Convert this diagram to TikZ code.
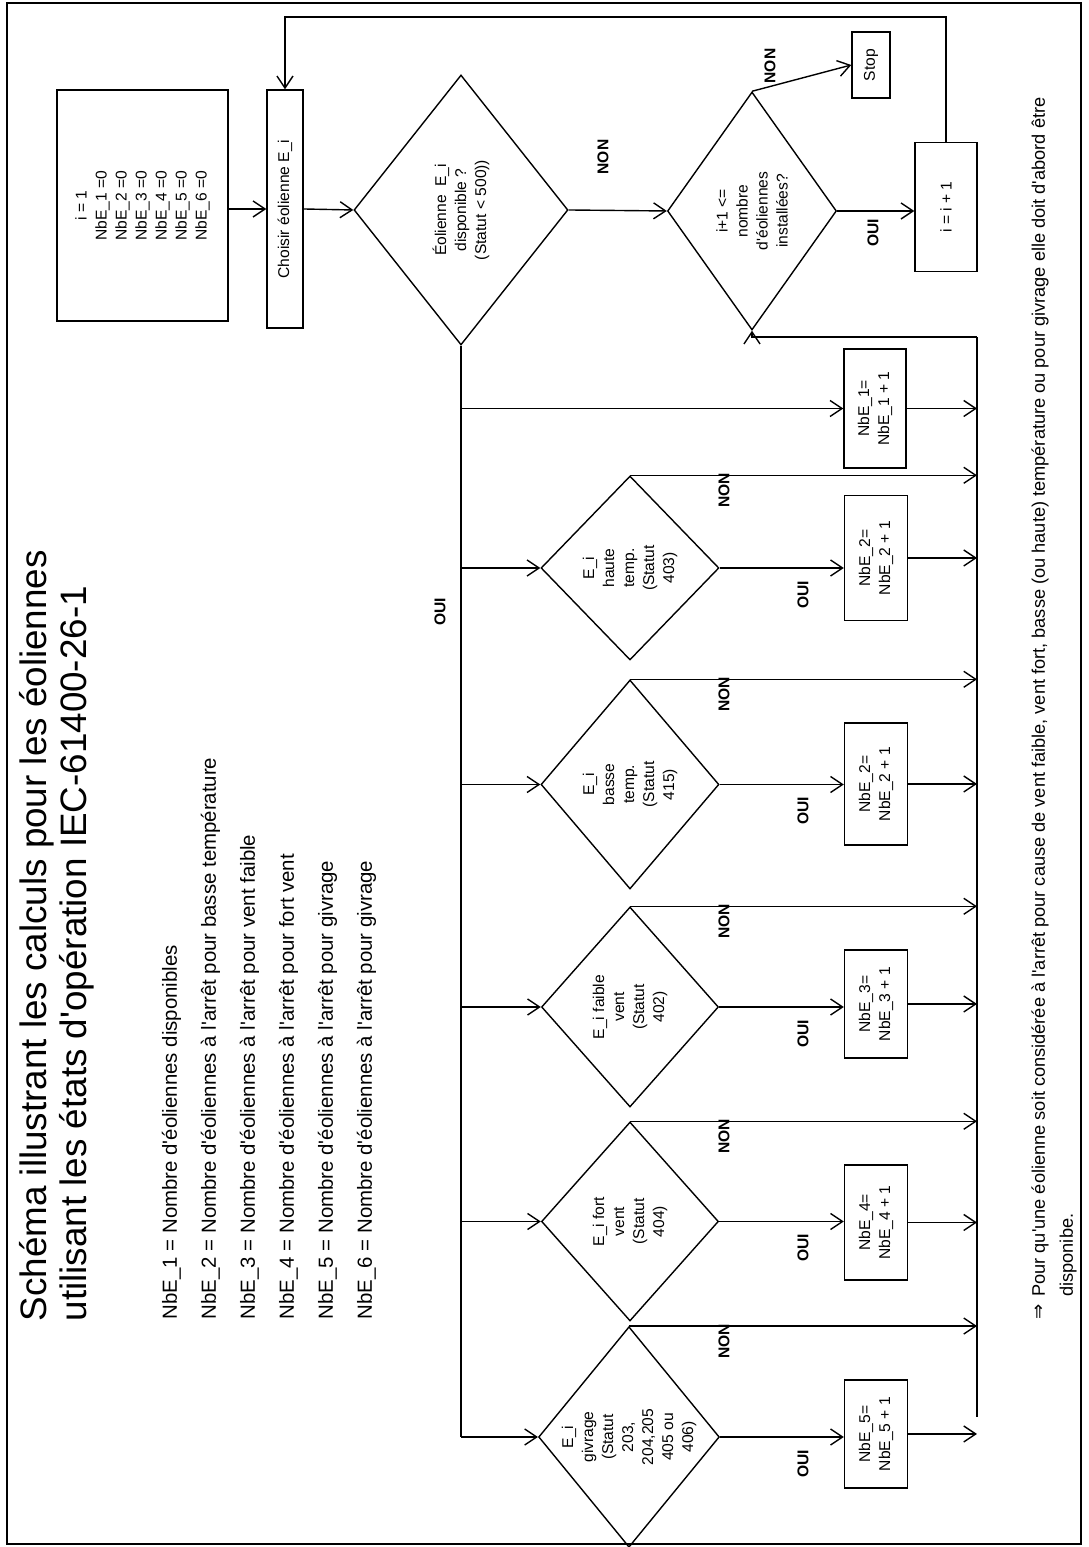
\documentclass[tikz,border=0pt]{standalone}
\usepackage{fontspec}
\newfontfamily\arial{Liberation Sans}
\newfontfamily\dejavu{DejaVu Sans}
\usetikzlibrary{shapes.geometric,arrows.meta}

\tikzset{
	boite/.style={draw, rectangle, inner sep=0pt, align=center},
	losange/.style={draw, diamond, inner sep=0pt, align=center},
	etiq/.style={inner sep=0pt, font=\arial\bfseries\fontsize{7.8}{10}\selectfont},
	legende/.style={anchor=base west, inner sep=0pt, font=\arial\fontsize{10.2}{12}\selectfont},
	titre/.style={anchor=base west, inner sep=0pt, font=\arial\fontsize{18.4}{20}\selectfont},
	note/.style={anchor=base west, inner sep=0pt, font=\arial\fontsize{9.1}{14}\selectfont}
}

\begin{document}
\begin{tikzpicture}[x=0.5pt, y=0.5pt, rotate=90, transform shape, >={Straight Barb[length=6pt,width=8pt]}, line width=0.7pt, font=\arial\fontsize{7.8}{10}\selectfont]
	\useasboundingbox (0,0) rectangle (1547,1088);
	% Cadre
	\draw[line width=1.2pt] (3,7) rectangle (1544,1081);
	
	% Titre et légende
	\node[titre] (titre1) at (225,1041) {Schéma illustrant les calculs pour les éoliennes};
	\node[titre] (titre2) at (225,1001) {utilisant les états d'opération IEC-61400-26-1};
	\foreach \k/\t in {1/{disponibles}, 2/{à l'arrêt pour basse température}, 3/{à l'arrêt pour vent faible}, 4/{à l'arrêt pour fort vent}, 5/{à l'arrêt pour givrage}, 6/{à l'arrêt pour givrage}} {
		\node[legende] (leg\k) at (227,950-39*\k) {NbE\_\k{} = Nombre d'éoliennes \t};
	}
	
	% Boucle principale
	\node[boite, minimum width=115.5pt, minimum height=85.5pt] (init) at (1341.5,945.5) {i = 1\\NbE\_1 =0\\NbE\_2 =0\\NbE\_3 =0\\NbE\_4 =0\\NbE\_5 =0\\NbE\_6 =0};
	\node[boite, minimum width=119pt, minimum height=18pt] (choix) at (1338,803) {Choisir éolienne E\_i};
	\node[losange, minimum width=135pt, minimum height=107pt, aspect=1.26] (dispo) at (1337,627) {Éolienne\ \ E\_i\\disponible ?\\(Statut < 500))};
	\node[losange, minimum width=119pt, minimum height=84.5pt, aspect=1.41] (reste) at (1336,336) {i+1 <=\\nombre\\d'éoliennes\\installées?};
	\node[boite, minimum width=33pt, minimum height=19pt] (stop) at (1482,217) {Stop};
	\node[boite, minimum width=64.5pt, minimum height=31pt] (incr) at (1340,142) {i = i + 1};
	
	% Cas possibles pour E_i
	\node[boite, minimum width=59.5pt, minimum height=31pt] (nb1) at (1138.5,213) {NbE\_1=\\NbE\_1 + 1};
	\node[losange, minimum width=92pt, minimum height=89pt, aspect=1.03] (haute) at (979,458) {E\_i\\haute\\temp.\\(Statut\\403)};
	\node[boite, minimum width=62.5pt, minimum height=31.5pt] (nb2h) at (989,212) {NbE\_2=\\NbE\_2 + 1};
	\node[losange, minimum width=104.5pt, minimum height=89pt, aspect=1.17] (basse) at (762.5,458) {E\_i\\basse\\temp.\\(Statut\\415)};
	\node[boite, minimum width=61pt, minimum height=31.5pt] (nb2b) at (763,212) {NbE\_2=\\NbE\_2 + 1};
	\node[losange, minimum width=100pt, minimum height=88.5pt, aspect=1.13] (faible) at (540,458) {E\_i faible\\vent\\(Statut\\402)};
	\node[boite, minimum width=54pt, minimum height=31.5pt] (nb3) at (543,212) {NbE\_3=\\NbE\_3 + 1};
	\node[losange, minimum width=99.5pt, minimum height=88.5pt, aspect=1.12] (fort) at (325.5,458) {E\_i fort\\vent\\(Statut\\404)};
	\node[boite, minimum width=57.5pt, minimum height=31.5pt] (nb4) at (324.5,212) {NbE\_4=\\NbE\_4 + 1};
	\node[losange, minimum width=108pt, minimum height=88.5pt, aspect=1.22] (givre) at (110,459) {E\_i\\givrage\\(Statut\\203,\\204,205\\405 ou\\406)};
	\node[boite, minimum width=54pt, minimum height=31.5pt] (nb5) at (113,212) {NbE\_5=\\NbE\_5 + 1};
	
	% Points des lignes de regroupement
	\coordinate (busG) at (110,627);
	\coordinate (busD) at (130,111);
	\coordinate (busH) at (1210,111);
	\coordinate (boucle) at (1530,142);
	
	% Liaisons de la boucle
	\draw[->] (choix.north |- init.south) -- (choix.north);
	\draw[->] (choix.south) -- (dispo.north);
	\draw[->] (dispo.south) -- (reste.north);
	\draw[->] (reste.east) -- (stop.north);
	\draw[->] (reste.south) -- (reste.south |- incr.north);
	\draw[->] (incr.east) -- (boucle) |- (choix.east);
	\node[etiq] (non-dispo) at (1390,485) {NON};
	\node[etiq] (non-stop) at (1481,318) {NON};
	\node[etiq] (oui-reste) at (1314,215) {OUI};
	
	% Branche OUI et retour
	\draw (dispo.west) -- (busG);
	\draw[->] (busG) -- (givre.north);
	\node[etiq] (oui-dispo) at (935,648) {OUI};
	\foreach \n in {nb1,haute,basse,faible,fort} {
		\draw[->] (\n.north |- busG) -- (\n.north);
	}
	\foreach \d/\b in {haute/nb2h,basse/nb2b,faible/nb3,fort/nb4,givre/nb5} {
		\draw[->] (\d.south) -- (\d.south |- \b.north);
		\node[etiq, anchor=east] (oui-\d) at ([xshift=-6pt]\d.south |- 0,285) {OUI};
		\draw[->] (\d.east) -- (\d.east |- busD);
		\node[etiq, anchor=east] (non-\d) at ([xshift=1.5pt]\d.east |- 0,364) {NON};
	}
	\foreach \b in {nb1,nb2h,nb2b,nb3,nb4,nb5} {
		\draw[->] (\b.south) -- (\b.south |- busD);
	}
	\draw (busD) -- (busH);
	\draw[->] (busH) |- (reste.west);
	
	% Remarque
	\node[note] (fleche) at (227,43) {\dejavu ⇒};
	\node[note] (note1) at ([xshift=3pt]fleche.base east) {Pour qu'une éolienne soit considérée à l'arrêt pour cause de vent faible, vent fort, basse (ou haute) température ou pour givrage elle doit d'abord être};
	\node[note] (note2) at (note1.base west |- 0,15) {disponibe.};
\end{tikzpicture}
\end{document}
